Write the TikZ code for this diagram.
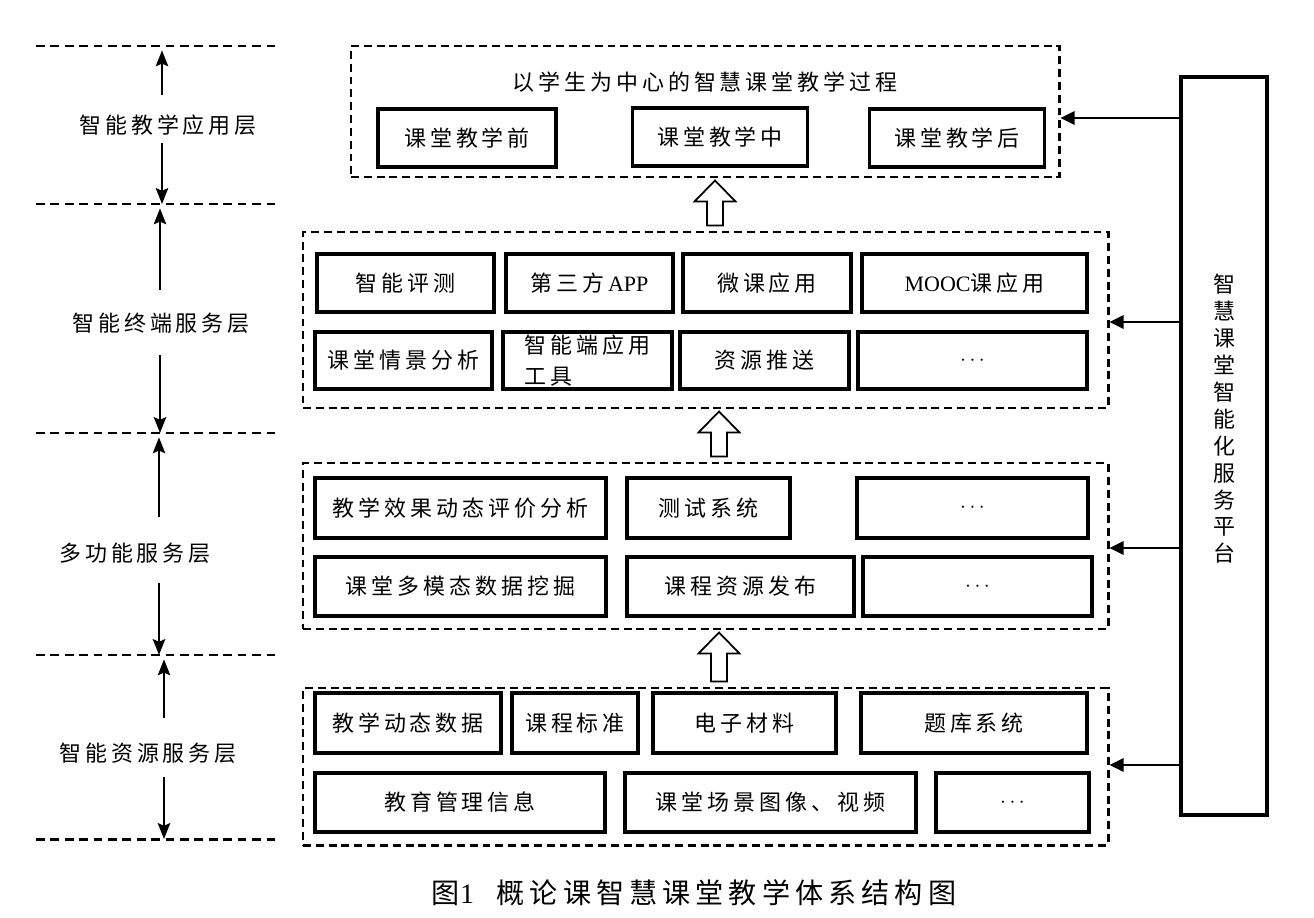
\documentclass[tikz,border=0pt]{standalone}
\usepackage{fontspec}
\setmainfont{Noto Sans CJK SC}[LetterSpace=18]
\newfontfamily\lat{Liberation Serif}
\usetikzlibrary{arrows.meta,calc}
\newcommand\px{0.02cm}

\tikzset{
  cell/.style={draw, line width=1.9pt, inner sep=0pt, align=left, font=\fontsize{12.5}{18}\selectfont},
  layer/.style={draw, line width=1.7pt, dash pattern=on 4.5pt off 2.8pt, inner sep=0pt},
  sepline/.style={line width=1.7pt, dash pattern=on 5pt off 3.2pt},
  lay/.style={line width=1.4pt, -{Stealth[length=9pt,width=7pt,inset=1.5pt]}},
  feed/.style={line width=1.4pt, -{Triangle[length=8pt,width=7.5pt]}},
  hollow/.style={line width=1pt, fill=white, line join=miter},
  txt/.style={inner sep=0pt, font=\fontsize{12.5}{16}\selectfont}
}

\begin{document}
\begin{tikzpicture}[x=\px, y=-\px]
  \useasboundingbox (0,0) rectangle (1314,918);

  % dashed layer frames
  \foreach \n/\cx/\cy/\w/\h in {LA/705/111.5/708/131, LB/705.5/320/805/176, LC/705.5/546/805/166, LD/705.5/766.5/805/157}
    \node[layer, minimum width=\w*\px, minimum height=\h*\px] (\n) at (\cx,\cy) {};

  \node[txt] (title) at (705,82) {以学生为中心的智慧课堂教学过程};

  % cells
  \foreach \n/\cx/\cy/\w/\h/\t in {pre/467/138/178/58/课堂教学前, mid/720/137/175/58/课堂教学中, post/957/138/175/58/课堂教学后,
      b1/405.5/283/177/58/智能评测, b2/589.5/283/167/58/{第三方\,{\lat APP}}, b3/767/283/168/58/微课应用, b4/974.5/283/225/58/{{\lat MOOC}课应用},
      b5/403.5/360.5/177/57/课堂情景分析, b6/587.5/360.5/169/57/{智能端应用\\工具}, b7/764.5/360.5/169/57/资源推送, b8/972.5/360.5/229/57/$\cdots$,
      c1/460.5/508/291/60/教学效果动态评价分析, c2/708.5/508/163/60/测试系统, c3/972.5/508/231/60/$\cdots$,
      c4/460.5/586.5/291/59/课堂多模态数据挖掘, c5/740.5/586.5/227/59/课程资源发布, c6/977.5/586.5/229/59/$\cdots$,
      d1/408/723/186/60/教学动态数据, d2/575/723/126/60/课程标准, d3/744.5/723/183/60/电子材料, d4/974/723/226/60/题库系统,
      d5/460/802.5/290/59/教育管理信息, d6/770.5/802.5/291/59/课堂场景图像、视频, d7/1012.5/802.5/153/59/$\cdots$}
    \node[cell, minimum width=\w*\px, minimum height=\h*\px] (\n) at (\cx,\cy) {\t};

  % hollow arrows between frames
  \foreach \p/\q/\x in {LA/LB/715, LB/LC/719, LC/LD/719}{
    \coordinate (tip) at ($(\p.south -| \x,0)+(0,2)$);
    \coordinate (base) at ($(\q.north -| \x,0)+(0,-5)$);
    \draw[hollow] (tip) -- ++(20.5,21) -- ++(-12.5,0) -- ($(base)+(8,0)$) -- ($(base)+(-8,0)$)
      -- ($(tip)+(-8,21)$) -- ++(-12.5,0) -- cycle;
  }

  % service platform
  \node[draw, line width=1.8pt, minimum width=86*\px, minimum height=738*\px] (plat) at (1224,446) {};
  \node[txt, align=center, font=\fontsize{12.5}{15.3}\selectfont] (platname) at (1224,419)
    {智\\慧\\课\\堂\\智\\能\\化\\服\\务\\平\\台};
  \foreach \b/\y in {LA/118, LB/322, LC/548, LD/765}
    \draw[feed] (plat.west |- 0,\y) -- (\b.east |- 0,\y);

  % layer scale on the left
  \foreach \i/\y in {1/46, 2/204, 3/433, 4/655, 5/839}{
    \coordinate (sep\i) at (160,\y);
    \draw[sepline] (sep\i) ++(-124,0) -- ++(244,0);
  }
  \foreach \n/\cx/\cy/\t in {L1/168/125/智能教学应用层, L2/161/323/智能终端服务层, L3/135/553/多功能服务层, L4/148/753/智能资源服务层}
    \node[txt] (\n) at (\cx,\cy) {\t};
  \foreach \i/\j/\x/\ut/\dt in {1/2/162/95/143, 2/3/160/290/355, 3/4/159/517/583, 4/5/164/718/777}{
    \coordinate (u\i) at (\x,\ut);
    \coordinate (d\i) at (\x,\dt);
    \draw[lay, shorten >=2.5pt] (u\i) -- (u\i |- sep\i);
    \draw[lay] (d\i) -- (d\i |- sep\j);
  }

  \node[inner sep=0pt, font=\fontsize{16}{18}\selectfont] (caption) at (694,893) {图{\lat 1}\ \ 概论课智慧课堂教学体系结构图};
\end{tikzpicture}
\end{document}
